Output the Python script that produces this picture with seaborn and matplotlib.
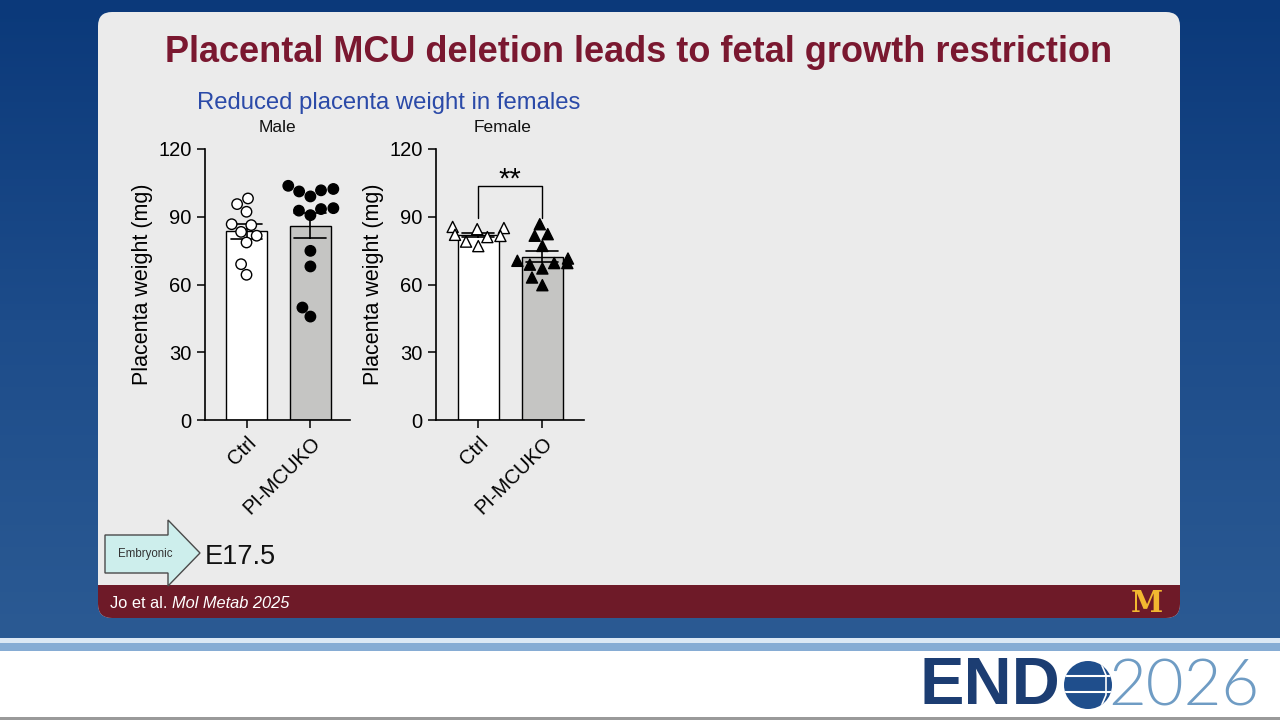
import numpy as np
import pandas as pd
import matplotlib
matplotlib.use('Agg')
import matplotlib.pyplot as plt
from matplotlib.patches import FancyBboxPatch, Polygon, Rectangle, Circle
import seaborn as sns

# values (mg)
groups = ['Ctrl', 'PI-MCUKO']
male_ctrl = [98.1, 95.6, 92.2, 86.7, 86.3, 83.3, 81.6, 78.6, 69.0, 64.3]
male_ko = [103.7, 102.3, 99.0, 101.7, 101.2, 93.8, 93.4, 92.7, 90.7, 74.9, 68.0, 49.8, 45.8]
female_ctrl = [85.0, 84.5, 85.5, 81.5, 81.0, 82.0, 79.0, 77.0]
female_ko = [86.7, 82.3, 81.6, 77.1, 70.5, 71.5, 69.5, 67.1, 68.8, 69.5, 63.1, 59.7]
y_ticks = [0, 30, 60, 90, 120]
sig_label = '**'
sig_top = 103.7
sig_leg = 89.5

def make_df(ctrl, ko):
    return pd.DataFrame({'group': [groups[0]] * len(ctrl) + [groups[1]] * len(ko),
                         'weight': ctrl + ko})

male = make_df(male_ctrl, male_ko)
female = make_df(female_ctrl, female_ko)

sns.set_theme(style='ticks')
plt.rcParams['font.family'] = ['Liberation Sans', 'DejaVu Sans']

fig = plt.figure(figsize=(12.8, 7.2), dpi=100)

# slide background
bg = fig.add_axes([0, 0, 1, 1])
bg.set_xlim(0, 1280)
bg.set_ylim(720, 0)
bg.axis('off')
grad = np.linspace(0, 1, 200)[:, None] * np.ones((1, 10))
cmap = matplotlib.colors.LinearSegmentedColormap.from_list('bgblue', ['#0b397a', '#1d4c8a', '#2b5a93'])
bg.imshow(grad, cmap=cmap, extent=[0, 1280, 640, 0], aspect='auto', zorder=0)
bg.add_patch(Rectangle((0, 638), 1280, 5, fc='#dce8f4', ec='none', zorder=1))
bg.add_patch(Rectangle((0, 643), 1280, 8, fc='#86acd4', ec='none', zorder=1))
bg.add_patch(Rectangle((0, 651), 1280, 69, fc='white', ec='none', zorder=1))
bg.add_patch(Rectangle((0, 717), 1280, 3, fc='#9a9a9a', ec='none', zorder=1))

# content panel with maroon footer
bg.add_patch(FancyBboxPatch((98, 12), 1082, 606, boxstyle='round,pad=0,rounding_size=14',
                            fc='#ebebeb', ec='none', zorder=2))
bg.add_patch(FancyBboxPatch((98, 585), 1082, 33, boxstyle='round,pad=0,rounding_size=14',
                            fc='#6e1a28', ec='none', zorder=3))
bg.add_patch(Rectangle((98, 585), 1082, 16, fc='#6e1a28', ec='none', zorder=3))

bg.text(639, 52, 'Placental MCU deletion leads to fetal growth restriction', ha='center', va='center',
        fontsize=26, fontweight='bold', color='#7a1830', zorder=5)
bg.text(197, 103, 'Reduced placenta weight in females', ha='left', va='center',
        fontsize=17.2, color='#2b4aa8', zorder=5)
bg.text(277, 128, 'Male', ha='center', va='center', fontsize=12.5, color='#111111', zorder=5)
bg.text(503, 128, 'Female', ha='center', va='center', fontsize=12.5, color='#111111', zorder=5)

# Embryonic arrow + stage
bg.add_patch(Polygon([(105, 535), (168, 535), (168, 520), (200, 553), (168, 586), (168, 573), (105, 573)],
                     closed=True, fc='#cdeeec', ec='#4a4a4a', lw=1, zorder=5))
bg.text(145, 554, 'Embryonic', ha='center', va='center', fontsize=8.3, color='#333333', zorder=6)
bg.text(205, 557, 'E17.5', ha='left', va='center', fontsize=19.5, color='#111111', zorder=6)

# footer text
bg.text(110, 603, 'Jo et al.', ha='left', va='center', fontsize=11.8, color='white', zorder=6)
bg.text(172, 603, 'Mol Metab 2025', ha='left', va='center', fontsize=11.8, color='white',
        style='italic', zorder=6)
bg.text(1147, 603, 'M', ha='center', va='center', fontsize=21, color='#f2b830', fontweight='heavy',
        family='DejaVu Serif', zorder=6)

# ENDO 2026 logo
bg.text(920, 687, 'END', ha='left', va='center', fontsize=48, fontweight='bold', color='#1c3d72', zorder=6)
globe = Circle((1088, 685), 24, fc='#1f4e8c', ec='none', zorder=6)
bg.add_patch(globe)
for gy in (676, 692):
    ln, = bg.plot([1060, 1116], [gy, gy], color='white', lw=1.5, zorder=7)
    ln.set_clip_path(globe)
arc, = bg.plot([1100, 1106, 1106, 1100], [661, 675, 695, 709], color='white', lw=1.2, zorder=7)
arc.set_clip_path(globe)
bg.text(1108, 687, '2026', ha='left', va='center', fontsize=47, fontweight=300,
        family=['Lato', 'Roboto', 'DejaVu Sans'], color='#6f9cc4', zorder=6)

palette = {'Ctrl': 'white', 'PI-MCUKO': '#c6c6c2'}
dot_palette = {'Ctrl': 'white', 'PI-MCUKO': 'black'}

def draw_panel(rect, df, marker, msize, xlim):
    ax = fig.add_axes(rect)
    ax.set_facecolor('none')
    sns.barplot(data=df, x='group', y='weight', hue='group', palette=palette, order=groups,
                errorbar='se', capsize=0.5, width=0.64, edgecolor='black', linewidth=1,
                err_kws={'color': 'black', 'linewidth': 1.2}, legend=False, ax=ax)
    sns.swarmplot(data=df, x='group', y='weight', hue='group', palette=dot_palette, order=groups,
                  marker=marker, size=msize, edgecolor='black', linewidth=1, legend=False, ax=ax)
    ax.set_ylim(0, 120)
    ax.set_xlim(*xlim)
    ax.set_yticks(y_ticks)
    ax.set_xlabel('')
    ax.set_ylabel('Placenta weight (mg)', fontsize=15.5, labelpad=4, color='black')
    ax.tick_params(axis='both', labelsize=14.5, length=6, width=1.1, color='black', labelcolor='black')
    ax.set_xticks(range(len(groups)))
    ax.set_xticklabels(groups, rotation=45, ha='right', rotation_mode='anchor')
    sns.despine(ax=ax)
    for s in ('left', 'bottom'):
        ax.spines[s].set_linewidth(1.2)
        ax.spines[s].set_color('black')
    return ax

draw_panel([205 / 1280, 300 / 720, 145 / 1280, 271 / 720], male, 'o', 7.5, (-0.65, 1.62))
axf = draw_panel([436 / 1280, 300 / 720, 148 / 1280, 271 / 720], female, '^', 8, (-0.66, 1.65))
axf.plot([0, 0, 1, 1], [sig_leg, sig_top, sig_top, sig_leg], color='black', lw=1)
axf.text(0.5, 102.8, sig_label, ha='center', va='baseline', fontsize=21, color='black')

fig.savefig('out.png', dpi=100)
